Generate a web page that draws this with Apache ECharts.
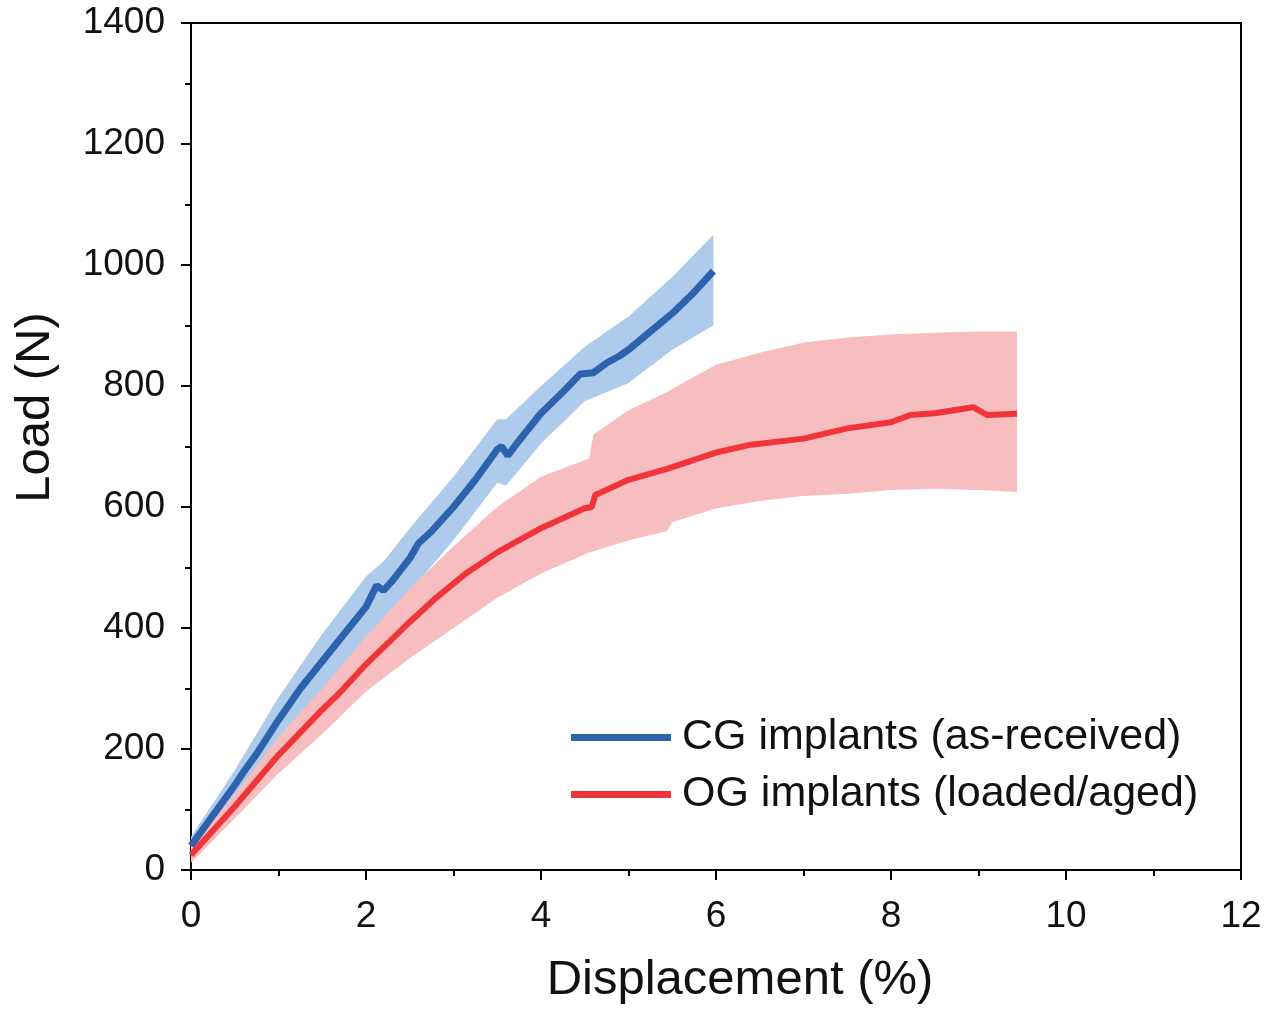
<!DOCTYPE html>
<html>
<head>
<meta charset="utf-8">
<script src="https://cdn.jsdelivr.net/npm/echarts@6/dist/echarts.min.js"></script>
<style>
  html, body { margin: 0; padding: 0; background: #fff; }
  #chart { width: 1279px; height: 1013px; }
</style>
</head>
<body>
<div id="chart"></div>
<script>
// CG implants (as-received)
var cgX     = [0, 0.25, 0.5, 0.6, 0.75, 1.0, 1.25, 1.5, 1.75, 2.0, 2.12, 2.2, 2.3, 2.5, 2.6, 2.75, 3.0, 3.25, 3.5, 3.55, 3.62, 3.75, 4.0, 4.25, 4.45, 4.6, 4.75, 4.9, 5.0, 5.25, 5.5, 5.75, 5.97];
var cgLoad  = [40, 90, 140, 162, 192, 248, 300, 345, 390, 435, 470, 462, 478, 515, 540, 560, 600, 645, 695, 700, 685, 710, 755, 790, 820, 822, 838, 850, 860, 890, 920, 955, 990];
var cgBandX = [0, 0.5, 1.0, 1.5, 2.0, 2.2, 2.5, 3.0, 3.5, 3.6, 4.0, 4.5, 5.0, 5.5, 5.97];
var cgUpper = [55, 165, 285, 390, 485, 510, 565, 650, 745, 745, 800, 865, 915, 980, 1050];
var cgLower = [25, 115, 210, 295, 385, 410, 460, 545, 640, 635, 705, 775, 805, 860, 900];

// OG implants (loaded/aged)
var ogX     = [0, 0.5, 1.0, 1.5, 1.7, 2.0, 2.5, 2.77, 3.15, 3.5, 4.0, 4.5, 4.58, 4.62, 5.0, 5.44, 6.0, 6.4, 7.0, 7.5, 8.0, 8.22, 8.5, 8.94, 9.1, 9.44];
var ogLoad  = [25, 105, 190, 265, 293, 340, 410, 446, 491, 525, 565, 598, 600, 620, 645, 663, 690, 703, 713, 730, 740, 752, 755, 765, 752, 754];
var ogBandX = [0, 0.5, 1.0, 1.5, 2.0, 2.5, 3.0, 3.5, 4.0, 4.55, 4.6, 5.0, 5.44, 5.5, 6.0, 6.5, 7.0, 7.5, 8.0, 8.5, 9.0, 9.44];
var ogUpper = [40, 125, 220, 300, 385, 465, 535, 600, 650, 680, 720, 760, 790, 795, 835, 855, 872, 880, 885, 888, 890, 890];
var ogLower = [12, 85, 160, 225, 295, 350, 400, 450, 490, 525, 527, 545, 560, 575, 598, 610, 618, 622, 628, 630, 628, 625];

var xTicks = { min: 0, max: 12, interval: 2 };
var yTicks = { min: 0, max: 1400, interval: 200 };

function pairs(xs, ys){
	var out = [];
	for (var i = 0; i < xs.length; i++) out.push([xs[i], ys[i]]);
	return out;
}

function bandSeries(xs, lo, hi, color){
	return {
		type: 'custom',
		silent: true,
		clip: true,
		data: [[xs[0], lo[0]]],
		renderItem: function(params, api){
			var pts = [];
			for (var i = 0; i < xs.length; i++) pts.push(api.coord([xs[i], hi[i]]));
			for (var j = xs.length - 1; j >= 0; j--) pts.push(api.coord([xs[j], lo[j]]));
			return {
				type: 'polygon',
				shape: { points: pts },
				style: { fill: color }
			};
		},
		z: 1
	};
}

var font = 'Liberation Sans, Arial, sans-serif';
var myChart = echarts.init(document.getElementById('chart'));
myChart.setOption({
	animation: false,
	backgroundColor: '#fff',
	grid: {
		left: 191, right: 38, top: 23, bottom: 143,
		show: true, borderColor: '#000', borderWidth: 2, backgroundColor: 'transparent'
	},
	legend: {
		orient: 'vertical',
		left: 566, top: 709,
		itemWidth: 100, itemHeight: 7,
		itemGap: 10,
		icon: 'rect',
		data: ['CG implants (as-received)', 'OG implants (loaded/aged)'],
		textStyle: { fontFamily: font, fontSize: 43, color: '#111', lineHeight: 47, padding: [0, 0, 0, 6] }
	},
	xAxis: {
		type: 'value',
		min: xTicks.min, max: xTicks.max, interval: xTicks.interval,
		name: 'Displacement (%)',
		nameLocation: 'middle',
		nameGap: 86,
		nameTextStyle: { fontFamily: font, fontSize: 49, color: '#111', padding: [0, 0, 0, 48] },
		axisLine: { show: true, onZero: false, lineStyle: { color: '#000', width: 2 } },
		axisTick: { show: true, inside: false, length: 10, lineStyle: { color: '#000', width: 2 } },
		minorTick: { show: true, splitNumber: 2, length: 6, lineStyle: { color: '#000', width: 2 } },
		axisLabel: { fontFamily: font, fontSize: 37, color: '#111', margin: 28 },
		splitLine: { show: false }
	},
	yAxis: {
		type: 'value',
		min: yTicks.min, max: yTicks.max, interval: yTicks.interval,
		name: 'Load (N)',
		nameLocation: 'middle',
		nameGap: 131,
		nameTextStyle: { fontFamily: font, fontSize: 49, color: '#111', padding: [0, 0, 0, 78] },
		axisLine: { show: true, onZero: false, lineStyle: { color: '#000', width: 2 } },
		axisTick: { show: true, inside: false, length: 10, lineStyle: { color: '#000', width: 2 } },
		minorTick: { show: true, splitNumber: 2, length: 6, lineStyle: { color: '#000', width: 2 } },
		axisLabel: { fontFamily: font, fontSize: 37, color: '#111', margin: 26, formatter: function(v){ return String(v); } },
		splitLine: { show: false }
	},
	series: [
		bandSeries(cgBandX, cgLower, cgUpper, '#afcbeb'),
		bandSeries(ogBandX, ogLower, ogUpper, '#f7bdbf'),
		{
			name: 'CG implants (as-received)',
			type: 'line',
			data: pairs(cgX, cgLoad),
			showSymbol: false,
			color: '#2c62ae',
			lineStyle: { width: 7, color: '#2c62ae' },
			z: 3
		},
		{
			name: 'OG implants (loaded/aged)',
			type: 'line',
			data: pairs(ogX, ogLoad),
			showSymbol: false,
			color: '#f0353a',
			lineStyle: { width: 6, color: '#f0353a' },
			z: 3
		}
	]
});
</script>
</body>
</html>
